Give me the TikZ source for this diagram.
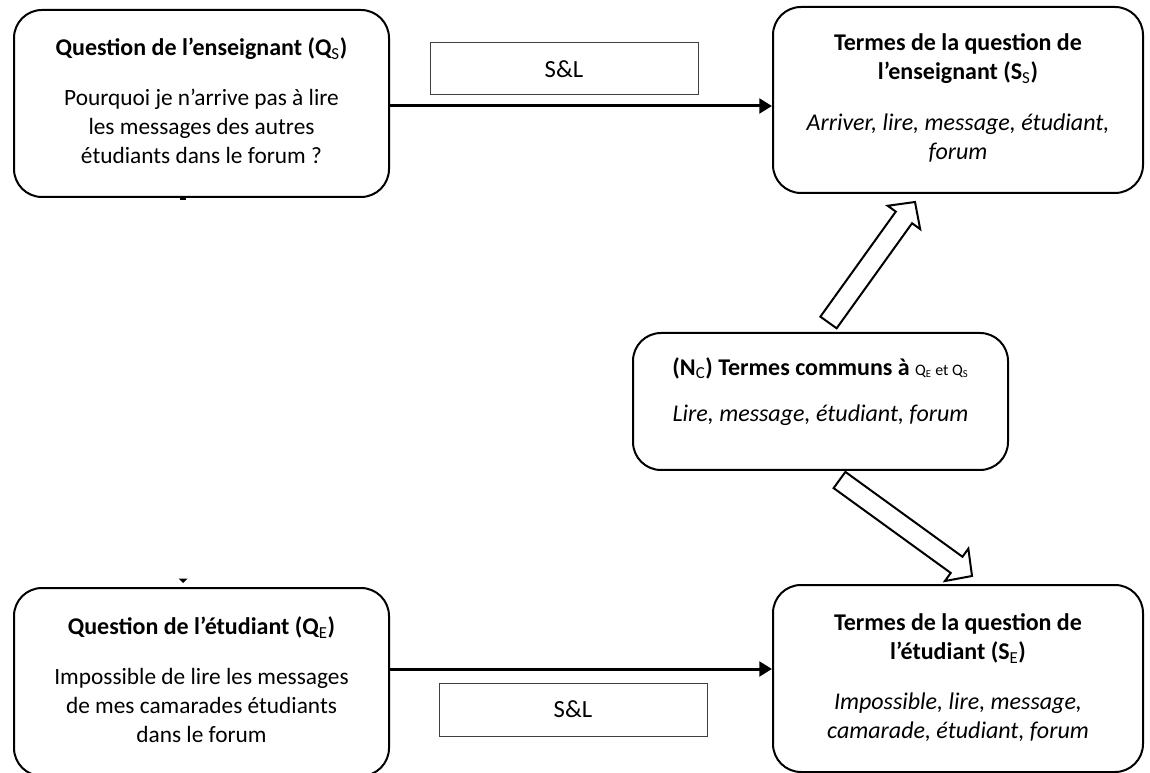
\documentclass[tikz,border=0pt]{standalone}
\usepackage{fontspec}
\setmainfont{Carlito}
\usetikzlibrary{calc,arrows.meta}

\newcommand{\hd}[1]{{\fontsize{18}{21.75}\selectfont\bfseries #1}}
\newcommand{\tm}[1]{{\fontsize{18}{21.75}\selectfont\itshape #1}}
\newcommand{\sub}[1]{\textsubscript{\mdseries #1}}

\tikzset{
  box/.style={draw, line width=1.5pt, rounded corners=21pt, inner sep=0pt},
  labelbox/.style={draw=black!75, line width=0.75pt, inner sep=0pt,
                   font=\fontsize{18.5}{21.75}\selectfont},
  txt/.style={align=center, inner sep=0pt, font=\fontsize{17.5}{21.75}\selectfont},
  conn/.style={line width=2.25pt, -{Triangle[length=9.5pt,width=11pt]}},
  blockarrow/.style={draw, fill=white, line width=1.5pt, line join=miter},
}

% hollow block arrow from base centre #1 to tip #2
\newcommand{\hollowarrow}[2]{%
  \path ($(#2)!14.25pt!(#1)$) coordinate (hb);
  \draw[blockarrow]
    ($(#1)!7.5pt!90:(#2)$) -- ($(hb)!7.5pt!90:(#2)$) -- ($(hb)!15pt!90:(#2)$)
    -- (#2) -- ($(hb)!15pt!-90:(#2)$) -- ($(hb)!7.5pt!-90:(#2)$)
    -- ($(#1)!7.5pt!-90:(#2)$) -- cycle;
}

\begin{document}
\begin{tikzpicture}[x=0.75pt, y=-0.75pt]
\useasboundingbox (0,0) rectangle (1150,773);

% rounded boxes
\node[box, minimum width=281.25pt, minimum height=140.25pt] (Qs) at (201.5,103.5) {};
\node[box, minimum width=277.5pt,  minimum height=139.5pt]  (Ss) at (958,100) {};
\node[box, minimum width=281.25pt, minimum height=102.75pt] (Nc) at (820.5,401.5) {};
\node[box, minimum width=281.25pt, minimum height=141pt]    (Qe) at (201.5,682) {};
\node[box, minimum width=277.5pt,  minimum height=140.25pt] (Se) at (958,678.5) {};

% box contents
\node[txt] (tQs) at ([yshift=2pt]Qs.center) {\hd{Question de l’enseignant (Q\sub{S})}\\[15.5pt]
  Pourquoi je n'arrive pas à lire\\ les messages des autres\\ étudiants dans le forum ?};
\node[txt] (tSs) at ([yshift=1.5pt]Ss.center) {\hd{Termes de la question de}\\
  \hd{l’enseignant (S\sub{S})}\\[16pt]
  \tm{Arriver, lire, message, étudiant,}\\ \tm{forum}};
\node[txt] (tNc) at ([yshift=7.5pt]Nc.center) {\hd{(N\sub{C}) Termes communs à} {\fontsize{12}{14}\selectfont Q\sub{E} et Q\sub{S}}\\[13pt]
  \tm{Lire, message, étudiant, forum}};
\node[txt] (tQe) at ([yshift=1.5pt]Qe.center) {\hd{Question de l’étudiant (Q\sub{E})}\\[16pt]
  Impossible de lire les messages\\ de mes camarades étudiants\\ dans le forum};
\node[txt] (tSe) at ([yshift=0.5pt]Se.center) {\hd{Termes de la question de}\\
  \hd{l’étudiant (S\sub{E})}\\[16pt]
  \tm{Impossible, lire, message,}\\ \tm{camarade, étudiant, forum}};

% S&L labels
\node[labelbox, minimum width=201pt, minimum height=39pt]    (SL1) at (564,69) {S\&L};
\node[labelbox, minimum width=201pt, minimum height=39.75pt] (SL2) at (573,709.5) {S\&L};

% horizontal connectors
\coordinate (c1) at ([yshift=-1.875pt]Qs.east);
\draw[conn] (c1) -- (c1 -| Ss.west);
\coordinate (c2) at ([yshift=9.75pt]Qe.east);
\draw[conn] (c2) -- (c2 -| Se.west);

% hollow arrows from the common terms
\coordinate (upbase) at (828.5,322.5);
\coordinate (uptip)  at (915,202);
\hollowarrow{upbase}{uptip}
\coordinate (dnbase) at (839.5,480);
\coordinate (dntip)  at (972,576);
\hollowarrow{dnbase}{dntip}

% small marks between the left boxes
\fill (180,198.5) rectangle (186,200.5);
\fill (178.5,578.5) -- (187.5,578.5) -- (183,583) -- cycle;
\end{tikzpicture}
\end{document}
